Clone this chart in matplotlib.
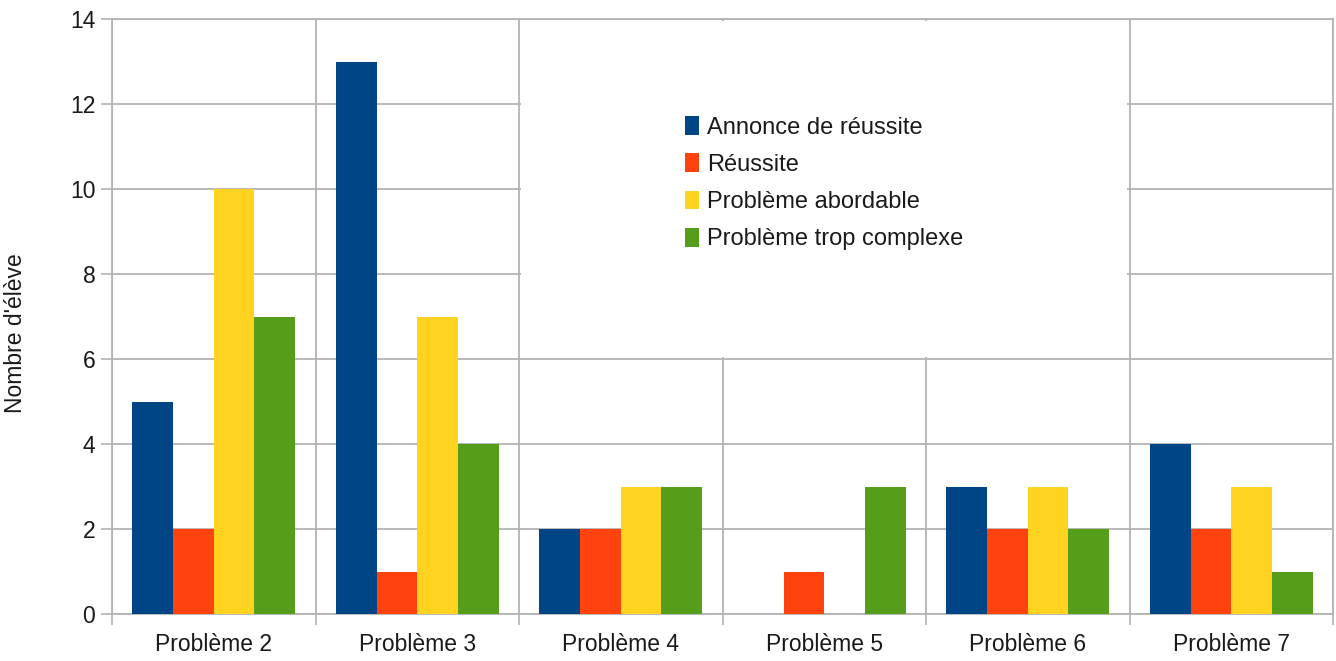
import numpy as np
import matplotlib
matplotlib.use("Agg")
import matplotlib.pyplot as plt
from matplotlib.patches import Rectangle

plt.rcParams['font.family'] = ['Liberation Sans', 'DejaVu Sans']

problemes = ["Problème 2", "Problème 3", "Problème 4", "Problème 5", "Problème 6", "Problème 7"]
series = ["Annonce de réussite", "Réussite", "Problème abordable", "Problème trop complexe"]
annonce = [5, 13, 2, 0, 3, 4]
reussite = [2, 1, 2, 1, 2, 2]
abordable = [10, 7, 3, 0, 3, 3]
complexe = [7, 4, 3, 3, 2, 1]
couleurs = ["#004586", "#ff420e", "#ffd320", "#579d1c"]
gris = "#b3b3b3"

fig = plt.figure(figsize=(13.36, 6.61), dpi=100)
ax = fig.add_axes([112/1336, 47/661, 1221/1336, 595/661])

x = np.arange(len(problemes))
largeur = 0.2
valeurs = [annonce, reussite, abordable, complexe]
for i, (v, c, nom) in enumerate(zip(valeurs, couleurs, series)):
    ax.bar(x + (i - 1.5) * largeur, v, largeur, color=c, label=nom, zorder=3)

ax.set_xlim(-0.5, len(problemes) - 0.5)
ax.set_ylim(0, 14)
ax.set_yticks(range(0, 15, 2))
ax.set_xticks(x)
ax.set_xticklabels(problemes)
ax.set_xticks(np.arange(-0.5, len(problemes)), minor=True)

ax.set_axisbelow(True)
ax.grid(axis="y", which="major", color=gris, lw=1.3)
ax.grid(axis="x", which="minor", color=gris, lw=1.3)
ax.tick_params(axis="x", which="major", length=0, labelsize=16.5, pad=14, colors="#1a1a1a")
ax.tick_params(axis="x", which="minor", length=8, width=1.2, color=gris)
ax.tick_params(axis="y", length=8, width=1.2, color=gris, labelsize=16.5, pad=4, labelcolor="#1a1a1a")
for s in ax.spines.values():
    s.set_color(gris)
    s.set_linewidth(1.3)

# fond blanc de la légende (cache la grille)
ax.add_patch(Rectangle((1.5 + 0.012, 6 + 0.05), 3 - 0.024, 8 - 0.1,
                       facecolor="white", edgecolor="none", zorder=1))

ax.set_ylabel("Nombre d'élève", fontsize=16.5, color="#1a1a1a")
ax.yaxis.set_label_coords(-0.0696, 0.472)

leg = ax.legend(loc="center", bbox_to_anchor=(0.583, 0.724), frameon=False,
                handlelength=0.6, handleheight=0.85, handletextpad=0.35,
                labelspacing=0.62, prop={'size': 17})
for t in leg.get_texts():
    t.set_color("#1a1a1a")

fig.savefig("out.png", dpi=100)
